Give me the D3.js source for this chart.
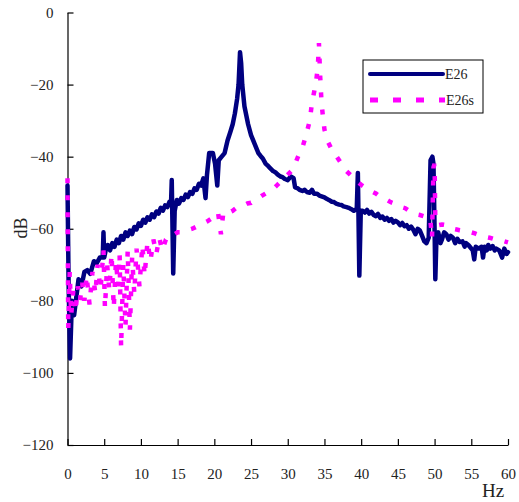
<!DOCTYPE html>
<html>
<head>
<meta charset="utf-8">
<script src="https://cdn.jsdelivr.net/npm/d3@7"></script>
<style>
  body { margin: 0; background: #fff; }
  svg text { font-family: "Liberation Serif", "DejaVu Serif", serif; fill: #222; }
</style>
</head>
<body>
<div id="chart"><svg width="519" height="502"></svg></div>
<script>
// E26 (solid navy)
const e26Hz = [0, 0.15, 0.35, 0.6, 0.9, 1.2, 1.5, 1.9, 2.3, 2.7, 3.1, 3.6, 4.0, 4.4, 4.8, 4.9, 5.0,
  5.2, 5.5, 5.8, 6.1, 6.4, 6.7, 7.0, 7.3, 7.6, 7.9, 8.2, 8.5, 8.8, 9.1, 9.4, 9.7, 10.0, 10.3, 10.6, 10.9,
  11.2, 11.5, 11.8, 12.1, 12.4, 12.7, 13.0, 13.3, 13.6, 13.9, 14.1, 14.2, 14.4, 14.6, 14.9, 15.2, 15.5, 15.8,
  16.1, 16.4, 16.7, 17.0, 17.3, 17.6, 17.9, 18.2, 18.5, 18.8, 19.0, 19.3, 19.8, 20.1, 20.4, 20.6, 21.0, 21.4,
  21.8, 22.2, 22.5, 22.8, 23.1, 23.3, 23.5, 23.65, 23.8, 24.1, 24.6, 25.0, 25.5, 26.0, 26.3, 26.6, 27.0, 27.3,
  27.6, 28.0, 28.3, 28.6, 29.0, 29.3, 29.6, 30.0, 30.4, 30.8, 31.0, 31.3, 31.6, 32.0, 32.3, 32.6, 33.0, 33.3,
  33.6, 34.0, 34.3, 34.6, 35.0, 35.3, 35.6, 36.0, 36.3, 36.6, 37.0, 37.3, 37.6, 38.0, 38.3, 38.6, 39.0, 39.4,
  39.55, 39.75, 39.95, 40.2, 40.5, 40.8, 41.1, 41.4, 41.7, 42.0, 42.3, 42.6, 42.9, 43.2, 43.5, 43.8, 44.1, 44.4,
  44.7, 45.0, 45.3, 45.6, 45.9, 46.2, 46.5, 46.8, 47.1, 47.4, 47.7, 48.0, 48.3, 48.6, 48.9, 49.2, 49.45, 49.7,
  49.85, 50.0, 50.1, 50.25, 50.5, 50.8, 51.0, 51.3, 51.6, 51.9, 52.2, 52.5, 52.8, 53.1, 53.4, 53.8, 54.1, 54.3,
  54.6, 54.8, 55.2, 55.4, 55.6, 56.0, 56.4, 56.6, 56.8, 57.1, 57.3, 57.6, 57.9, 58.2, 58.4, 58.8, 59.0, 59.2,
  59.5, 59.8, 60];
const e26dB = [-48, -75, -96, -80, -84, -79, -74, -76, -72, -71.5, -72.5, -69, -69.5, -68, -68, -61, -68,
  -66, -64.5, -66, -64, -65, -63, -64, -62, -63, -61, -62, -60.5, -61.5, -59.5, -60.2, -58.5, -59.2, -57.5, -58.3, -56.8,
  -57.5, -56, -56.8, -55.2, -55.8, -54.2, -55, -53.5, -54, -52.5, -53, -46.5, -72.4, -55, -52, -53, -51.5, -52,
  -50.5, -51.2, -49.8, -50.3, -48.8, -49.2, -47.5, -48, -46, -51.5, -45, -39, -39, -42, -48, -41, -40, -39,
  -35.5, -33, -31, -28, -24, -20, -11, -14, -20, -26, -31, -34, -36.5, -39, -39.8, -40.5, -42, -42.5,
  -43.2, -44, -44.3, -44.9, -45.5, -45.7, -46.2, -46.5, -45.5, -46, -48.5, -48.7, -49.2, -49.5, -49.2, -49.8, -50, -49.2,
  -50.3, -50.3, -50.8, -51, -51.3, -51.7, -52, -52.5, -52.6, -53, -53.3, -53.4, -53.8, -54, -54.2, -54.5, -55, -54.5,
  -44.5, -73, -55, -55, -55.5, -54.8, -55.8, -55.3, -56.2, -56.5, -55.9, -57, -56.6, -57.5, -57, -57.8, -57.3, -58.3,
  -57.8, -58.2, -59, -58.4, -59.3, -59, -60, -59.4, -60.3, -61.5, -60, -60.5, -62, -63.5, -64, -62.5, -41, -40,
  -42, -60, -74, -63, -61, -64, -63, -61, -61.5, -63, -62, -62.5, -64, -62.8, -63.7, -63.5, -65, -64,
  -64.5, -65, -66, -68.5, -65, -65.5, -65, -68, -65, -66, -64.5, -65.5, -64.8, -66, -65.5, -66, -67, -68,
  -65.5, -67, -66.5];

// E26s (dashed magenta)
const e26sHz = [0, 0.1, 0.3, 0.5, 0.8, 1.1, 1.4, 1.7, 2.0, 2.3, 2.6, 3.0, 3.4, 3.8, 4.1, 4.5, 4.9, 5.1, 5.4, 5.7,
  6.0, 6.3, 6.6, 6.9, 7.1, 7.3, 7.6, 7.9, 8.2, 8.5, 8.8, 9.1, 9.4, 9.8, 10.2, 10.5, 10.9, 11.3, 11.7, 12.1,
  12.5, 12.9, 13.4, 13.8, 14.2, 14.6, 15.0, 15.5, 16.0, 16.5, 17.0, 17.5, 18.0, 18.5, 19.0, 19.5, 20.0, 20.5, 20.9, 21.2,
  21.6, 22.0, 22.5, 23.0, 23.5, 24.0, 24.5, 25.0, 25.5, 26.0, 26.5, 27.0, 27.5, 28.0, 28.5, 29.0, 29.5, 30.0, 30.5, 31.0,
  31.5, 32.0, 32.5, 33.0, 33.3, 33.6, 33.9, 34.1, 34.25, 34.4, 34.6, 34.8, 35.0, 35.5, 36.0, 36.5, 37.0, 37.5, 38.0, 38.5,
  39.0, 39.5, 40.0, 40.5, 41.0, 41.5, 42.0, 42.5, 43.0, 43.5, 44.0, 44.5, 45.0, 45.5, 46.0, 46.5, 47.0, 47.5, 48.0, 48.5,
  49.0, 49.4, 49.65, 49.85, 50.0, 50.1, 50.5, 51.0, 51.6, 52.0, 52.5, 53.0, 53.4, 54.0, 54.5, 55.0, 55.5, 56.0, 56.5, 57.0,
  57.5, 58.0, 58.5, 59.0, 59.5, 60];
const e26sdB = [-46, -88, -72, -84, -77, -83, -76, -80, -75, -80, -73, -81, -72, -78, -70, -77, -66, -82, -70, -77,
  -67, -82, -69, -76, -67, -93, -70, -87, -66, -88, -68, -78, -65.5, -76, -64.5, -73, -63.5, -69, -63, -67,
  -62.5, -66, -63, -62, -61.3, -61.5, -61, -61, -60.5, -60.3, -60, -59.5, -59, -58.5, -58, -57.3, -56.5, -55.4, -61.5, -56,
  -56.5, -55.5, -55, -54.2, -54, -53.5, -53, -52.8, -52, -51.5, -50.8, -50.2, -49.5, -49, -48, -47, -46, -45, -44, -42,
  -39.5, -37.5, -34, -30, -25, -22, -18.5, -15, -8.5, -17, -25, -29, -32.5, -36, -38, -39.5, -41, -42.5, -44, -45,
  -46, -47, -47.8, -48.5, -49, -49.7, -50.2, -51, -51.5, -52, -52.6, -53, -53.6, -54, -54.3, -55, -55.5, -56, -56.2, -56.5,
  -56.7, -57, -62.6, -43, -42, -58, -59, -58.8, -59, -59.5, -60, -60.2, -60.4, -60.6, -60.8, -61, -61.3, -61.7, -62, -62.3,
  -62.5, -62.8, -63, -63.2, -63.5, -63.8];

const xTicks = d3.range(0, 61, 5);
const yTicks = d3.range(-120, 1, 20);

let svg = d3.select("div#chart svg");

let x = d3.scaleLinear().domain([0, 60]).range([67.5, 508]);
let y = d3.scaleLinear().domain([-120, 0]).range([445, 12.5]);

// Axes (ticks point inward)
let yAxis = svg.append("g")
  .attr("transform", "translate(" + x(0) + ",0)")
  .call(d3.axisLeft(y).tickValues(yTicks).tickSizeInner(-6).tickSizeOuter(0).tickPadding(14));
let xAxis = svg.append("g")
  .attr("transform", "translate(0," + y(-120) + ")")
  .call(d3.axisBottom(x).tickValues(xTicks).tickSizeInner(-6).tickSizeOuter(0).tickPadding(23));
[xAxis, yAxis].forEach(a => {
  a.selectAll("path, line").attr("stroke", "#000").attr("stroke-width", 1.2);
  a.selectAll("text").style("font-size", "15px").attr("fill", "#222")
    .style("font-family", "'Liberation Serif', 'DejaVu Serif', serif");
});

// Lines
let line = d3.line()
  .x(d => x(d[0]))
  .y(d => y(d[1]));

svg.append("path")
  .datum(d3.zip(e26Hz, e26dB))
  .attr("d", line)
  .attr("fill", "none")
  .attr("stroke", "#000080")
  .attr("stroke-width", 4.5)
  .attr("stroke-linejoin", "round")
  .attr("stroke-linecap", "round");

svg.append("path")
  .datum(d3.zip(e26sHz, e26sdB))
  .attr("d", line)
  .attr("fill", "none")
  .attr("stroke", "#ff00ff")
  .attr("stroke-width", 4.5)
  .attr("stroke-dasharray", "5,12");

// Axis titles
svg.append("text")
  .attr("transform", "translate(27,228) rotate(-90)")
  .style("text-anchor", "middle")
  .style("font-size", "18px")
  .text("dB");

svg.append("text")
  .attr("x", 493)
  .attr("y", 497)
  .style("text-anchor", "middle")
  .style("font-size", "19px")
  .text("Hz");

// Legend
let legend = svg.append("g").attr("transform", "translate(363,60)");
legend.append("rect")
  .attr("width", 120)
  .attr("height", 53)
  .attr("fill", "#fff")
  .attr("stroke", "#000")
  .attr("stroke-width", 1);
legend.append("line")
  .attr("x1", 7).attr("x2", 80).attr("y1", 14).attr("y2", 14)
  .attr("stroke", "#000080").attr("stroke-width", 4).attr("stroke-linecap", "round");
legend.append("line")
  .attr("x1", 7).attr("x2", 82).attr("y1", 40).attr("y2", 40)
  .attr("stroke", "#ff00ff").attr("stroke-width", 5).attr("stroke-dasharray", "8,15");
legend.append("text").attr("x", 82).attr("y", 19).style("font-size", "14px").text("E26");
legend.append("text").attr("x", 83).attr("y", 45).style("font-size", "14px").text("E26s");
</script>
</body>
</html>
